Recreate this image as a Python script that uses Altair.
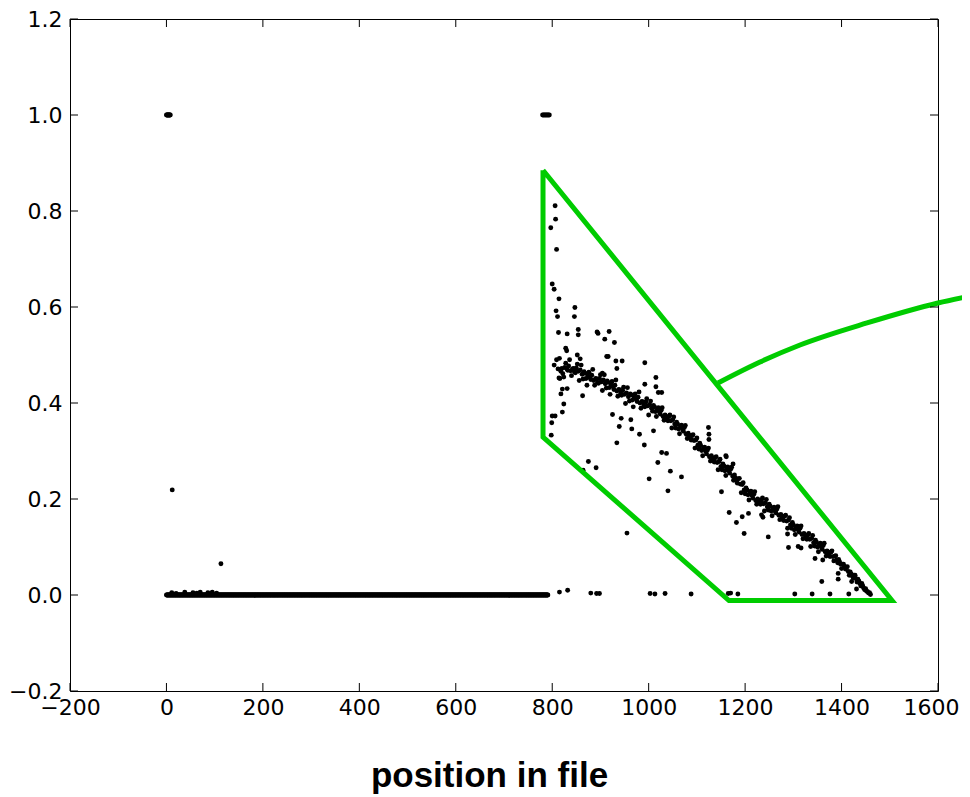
import altair as alt
import pandas as pd

# ---------------- data ----------------
x_ticks = [-200, 0, 200, 400, 600, 800, 1000, 1200, 1400, 1600]
y_ticks = [-0.2, 0.0, 0.2, 0.4, 0.6, 0.8, 1.0, 1.2]

# points at 1.0 (start of file and around position 780-795)
one_x = [0, 1, 2, 3, 4, 5, 6, 7, 8, 780, 782, 784, 786, 788, 790, 792, 794]
one_y = [1.0] * len(one_x)

# long run of zeros: every position from 0 to 791 sits at 0.0
zero_run_start, zero_run_end = 0, 791
# small bumps near the start of the file
bump_x = [11, 20, 38, 55, 63, 70, 86, 95, 104, 12, 113]
bump_y = [0.005, 0.003, 0.006, 0.005, 0.004, 0.006, 0.005, 0.006, 0.004, 0.219, 0.065]

# zero-level points after position 800
zero2_x = [815, 832, 880, 892, 898, 1003, 1013, 1034, 1088, 1165, 1170, 1185,
           1303, 1339, 1376, 1415]
zero2_y = [0.006, 0.010, 0.004, 0.003, 0.003, 0.003, 0.002, 0.003, 0.002, 0.003,
           0.004, 0.002, 0.002, 0.002, 0.002, 0.002]

# main decaying band, one value every 4 positions from 812 to 1460
band_start, band_step = 812, 4
band_y = [
    0.471, 0.451, 0.472, 0.454, 0.483, 0.468, 0.490, 0.457, 0.472, 0.463, 0.481, 0.447,
    0.479, 0.450, 0.462, 0.437, 0.464, 0.449, 0.470, 0.437, 0.450, 0.441, 0.459, 0.426,
    0.459, 0.431, 0.443, 0.418, 0.445, 0.428, 0.448, 0.414, 0.427, 0.416, 0.433, 0.399,
    0.432, 0.404, 0.417, 0.392, 0.419, 0.403, 0.423, 0.389, 0.402, 0.392, 0.409, 0.375,
    0.404, 0.383, 0.392, 0.372, 0.390, 0.377, 0.390, 0.364, 0.372, 0.363, 0.375, 0.348,
    0.371, 0.348, 0.356, 0.336, 0.354, 0.341, 0.353, 0.326, 0.333, 0.323, 0.334, 0.306,
    0.327, 0.304, 0.311, 0.290, 0.308, 0.294, 0.306, 0.279, 0.286, 0.277, 0.288, 0.261,
    0.283, 0.261, 0.269, 0.249, 0.267, 0.254, 0.266, 0.239, 0.244, 0.233, 0.243, 0.213,
    0.234, 0.211, 0.219, 0.198, 0.216, 0.202, 0.215, 0.189, 0.197, 0.189, 0.202, 0.175,
    0.199, 0.177, 0.185, 0.165, 0.183, 0.171, 0.184, 0.157, 0.164, 0.155, 0.166, 0.139,
    0.161, 0.139, 0.146, 0.126, 0.144, 0.131, 0.144, 0.117, 0.125, 0.116, 0.128, 0.101,
    0.124, 0.102, 0.110, 0.090, 0.108, 0.095, 0.108, 0.081, 0.089, 0.080, 0.092, 0.071,
    0.082, 0.067, 0.069, 0.055, 0.064, 0.054, 0.059, 0.041, 0.044, 0.036, 0.041, 0.027,
    0.029, 0.019, 0.019, 0.011, 0.008, 0.004, 0.001,
]
# second row of the band, positions 814 to 1458
band2_start = 814
band2_y = [
    0.452, 0.466, 0.461, 0.474, 0.472, 0.477, 0.467, 0.471, 0.465, 0.473, 0.466, 0.469,
    0.460, 0.465, 0.451, 0.457, 0.453, 0.458, 0.447, 0.451, 0.443, 0.451, 0.444, 0.448,
    0.440, 0.446, 0.432, 0.438, 0.434, 0.437, 0.425, 0.428, 0.420, 0.426, 0.418, 0.421,
    0.413, 0.419, 0.406, 0.412, 0.408, 0.412, 0.400, 0.403, 0.395, 0.402, 0.394, 0.397,
    0.389, 0.395, 0.382, 0.387, 0.382, 0.385, 0.372, 0.375, 0.366, 0.372, 0.363, 0.365,
    0.356, 0.360, 0.346, 0.351, 0.346, 0.349, 0.335, 0.337, 0.327, 0.332, 0.322, 0.323,
    0.312, 0.316, 0.301, 0.305, 0.300, 0.302, 0.288, 0.290, 0.280, 0.286, 0.276, 0.278,
    0.268, 0.273, 0.259, 0.264, 0.259, 0.262, 0.248, 0.250, 0.238, 0.242, 0.231, 0.230,
    0.219, 0.223, 0.209, 0.213, 0.208, 0.210, 0.197, 0.200, 0.191, 0.198, 0.190, 0.192,
    0.184, 0.189, 0.175, 0.180, 0.175, 0.179, 0.166, 0.168, 0.158, 0.164, 0.154, 0.156,
    0.146, 0.151, 0.136, 0.141, 0.136, 0.139, 0.126, 0.128, 0.119, 0.125, 0.116, 0.118,
    0.109, 0.114, 0.100, 0.105, 0.100, 0.103, 0.090, 0.092, 0.083, 0.089, 0.080, 0.081,
    0.073, 0.074, 0.064, 0.064, 0.059, 0.058, 0.049, 0.048, 0.040, 0.041, 0.034, 0.033,
    0.024, 0.024, 0.014, 0.013, 0.007, 0.005,
]

# scattered points around the band
out_x = [806, 807, 797, 809, 800, 804, 814, 808, 811, 847, 846, 813, 831, 854, 854,
         895, 893, 918, 909, 929, 828, 830, 852, 858, 815, 809, 804, 913, 916, 932,
         934, 945, 992, 904, 1015, 992, 1015, 1027, 1020, 821, 831, 818, 863, 824, 821,
         806, 800, 799, 798, 925, 939, 943, 963, 965, 981, 934, 991, 1010, 1027, 1019,
         1037, 1045, 1068, 1124, 1125, 1125, 1160, 1175, 875, 864, 891, 1001, 955, 1040,
         1161, 1167, 1182, 1194, 1207, 1198, 1151, 1234, 1237, 1248, 1288, 1290, 1310,
         1316, 1345, 1361, 1359, 1393, 1393, 1431, 1421]
out_y = [0.811, 0.783, 0.765, 0.720, 0.648, 0.637, 0.617, 0.592, 0.580, 0.599, 0.580,
         0.547, 0.544, 0.553, 0.542, 0.545, 0.548, 0.549, 0.533, 0.526, 0.514, 0.509,
         0.500, 0.492, 0.493, 0.490, 0.479, 0.497, 0.497, 0.4875, 0.472, 0.4875, 0.484,
         0.462, 0.453, 0.439, 0.434, 0.422, 0.422, 0.429, 0.430, 0.419, 0.415, 0.398,
         0.381, 0.373, 0.373, 0.359, 0.333, 0.376, 0.351, 0.368, 0.365, 0.346, 0.335,
         0.317, 0.3125, 0.342, 0.297, 0.276, 0.295, 0.258, 0.246, 0.349, 0.335, 0.324,
         0.290, 0.273, 0.278, 0.260, 0.265, 0.242, 0.129, 0.217,
         0.288, 0.172, 0.151, 0.163, 0.170, 0.128, 0.215, 0.167, 0.162, 0.121, 0.127,
         0.099, 0.101, 0.098, 0.076, 0.073, 0.028, 0.045, 0.033, 0.0125, 0.028]

# green annotation (data coordinates)
poly_x = [780.9, 780.9, 1166.6, 1504.6, 780.9]
poly_y = [0.885, 0.329, -0.0115, -0.0115, 0.885]
curve_x = [1143.8, 1230.9, 1313.8, 1452.8, 1600.0, 1666.4]
curve_y = [0.4417, 0.4854, 0.5208, 0.5667, 0.6083, 0.6229]

# ---------------- tables ----------------
xs = list(one_x) + list(range(zero_run_start, zero_run_end + 1)) + bump_x + zero2_x
ys = list(one_y) + [0.0] * (zero_run_end - zero_run_start + 1) + bump_y + zero2_y
band_x = [band_start + band_step * i for i in range(len(band_y))]
band2_x = [band2_start + band_step * i for i in range(len(band2_y))]
xs += band_x + band2_x + out_x
ys += band_y + band2_y + out_y
pts = pd.DataFrame({"x": xs, "y": ys})

poly = pd.DataFrame({"x": poly_x, "y": poly_y, "o": list(range(len(poly_x)))})
curve = pd.DataFrame({"x": curve_x, "y": curve_y})
xt = pd.DataFrame({"x": x_ticks})
yt = pd.DataFrame({"y": y_ticks})

W, H = 868, 672
xscale = alt.Scale(domain=[-200, 1600], nice=False, zero=False)
yscale = alt.Scale(domain=[-0.2, 1.2], nice=False, zero=False)

xaxis = alt.Axis(values=x_ticks, format="d", grid=False, domain=False, ticks=False,
                 tickSize=0, labelFont="DejaVu Sans", labelFontSize=22,
                 labelColor="black", labelPadding=6, labelFlush=False,
                 labelOverlap=False, labelBound=False,
                 labelOffset={"condition": {"test": "datum.value == 1600", "value": -7},
                              "value": 0},
                 title="position in file", titleFont="Liberation Sans",
                 titleFontWeight="bold", titleFontSize=35, titleColor="black",
                 titleX=419, titleY=95, titleAlign="center",
                 titleBaseline="alphabetic")
yaxis = alt.Axis(values=y_ticks, format=".1f", grid=False, domain=False, ticks=False,
                 tickSize=0, labelFont="DejaVu Sans", labelFontSize=22,
                 labelColor="black", labelPadding=8, labelFlush=False,
                 labelOverlap=False, labelBound=False, title="")

X = alt.X("x:Q", scale=xscale, axis=xaxis)
Y = alt.Y("y:Q", scale=yscale, axis=yaxis)

points = alt.Chart(pts).mark_circle(size=24, color="black", opacity=1).encode(x=X, y=Y)

green = "#00cc00"
polygon = alt.Chart(poly).mark_line(color=green, strokeWidth=5, strokeJoin="miter",
                                    clip=False).encode(x=X, y=Y, order=alt.Order("o:Q"))
arc = alt.Chart(curve).mark_line(color=green, strokeWidth=5, interpolate="monotone",
                                 clip=False).encode(x=X, y=Y)

tick_len = 8
bottom_t = alt.Chart(xt).mark_rule(color="black", strokeWidth=1).encode(
    x=X, y=alt.value(H), y2=alt.value(H - tick_len))
top_t = alt.Chart(xt).mark_rule(color="black", strokeWidth=1).encode(
    x=X, y=alt.value(0), y2=alt.value(tick_len))
left_t = alt.Chart(yt).mark_rule(color="black", strokeWidth=1).encode(
    y=Y, x=alt.value(0), x2=alt.value(tick_len))
right_t = alt.Chart(yt).mark_rule(color="black", strokeWidth=1).encode(
    y=Y, x=alt.value(W), x2=alt.value(W - tick_len))

chart = alt.layer(points, polygon, arc, bottom_t, top_t, left_t, right_t).properties(
    width=W, height=H,
    padding={"left": 62, "top": 11, "right": 24, "bottom": 106},
    autosize=alt.AutoSizeParams(type="none"),
    background="white",
).configure_view(stroke="black", strokeWidth=1)

chart.save("out.html", embed_options={"renderer": "svg", "actions": False})
